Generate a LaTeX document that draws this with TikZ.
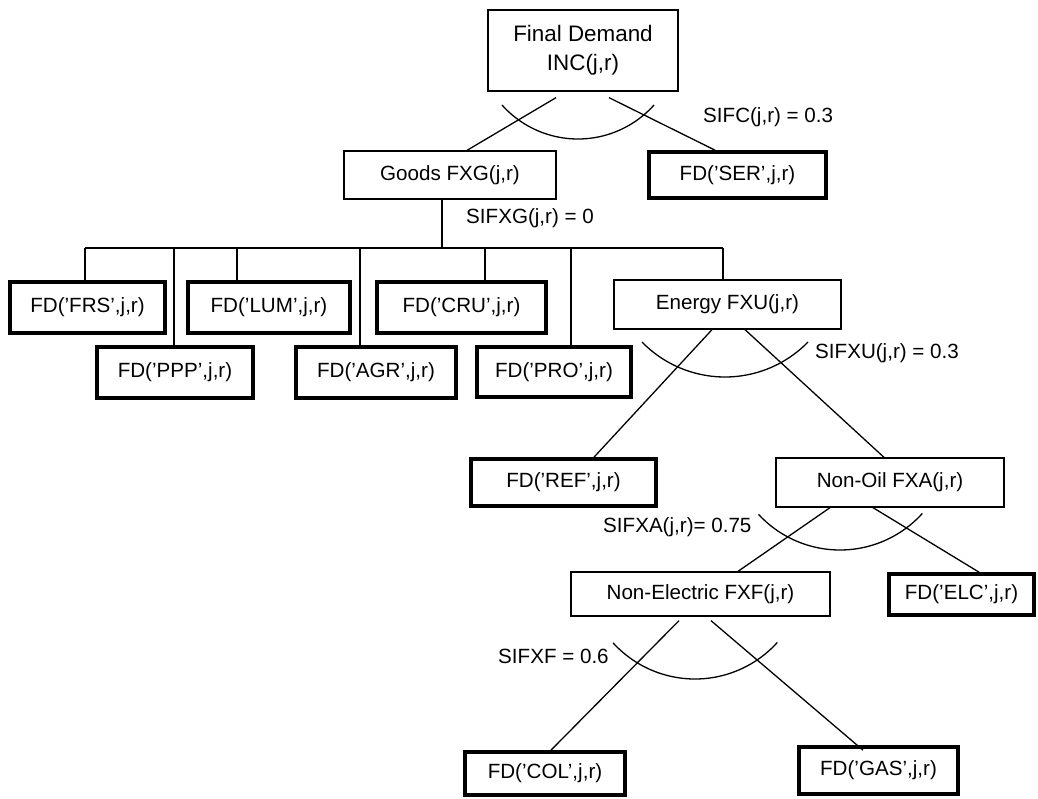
\documentclass[tikz,border=0pt]{standalone}
\usepackage{fontspec}
\setmainfont{Liberation Sans}
\usetikzlibrary{calc}
\begin{document}
\begin{tikzpicture}[x=1pt,y=-1pt,
  every node/.style={font=\fontsize{20.6}{28}\selectfont, inner sep=0pt},
  nest/.style={draw, line width=1.3pt, align=center},
  leaf/.style={draw, line width=3.7pt, align=center},
  link/.style={line width=1.3pt},
  elast/.style={line width=1.3pt},
  lbl/.style={anchor=west}]
\useasboundingbox (0,0) rectangle (1038,798);

% nesting nodes
\node[nest, minimum width=190pt, minimum height=81pt, font=\fontsize{22.4}{29}\selectfont] (fd) at (583,50.5) {Final Demand\\INC(j,r)};
\node[nest, minimum width=212pt, minimum height=48pt] (goods) at (450,175) {Goods FXG(j,r)};
\node[nest, minimum width=227pt, minimum height=49pt] (energy) at (727.5,304.5) {Energy FXU(j,r)};
\node[nest, minimum width=228pt, minimum height=49pt] (nonoil) at (890,482.5) {Non-Oil FXA(j,r)};
\node[nest, minimum width=259pt, minimum height=44pt] (nonel) at (700.5,594) {Non-Electric FXF(j,r)};

% final demand leaves
\node[leaf, minimum width=177pt, minimum height=46pt] (ser) at (737.5,175) {FD(’SER’,j,r)};
\node[leaf, minimum width=155pt, minimum height=51pt] (frs) at (87.5,307.5) {FD(’FRS’,j,r)};
\node[leaf, minimum width=162pt, minimum height=51pt] (lum) at (269,307.5) {FD(’LUM’,j,r)};
\node[leaf, minimum width=169pt, minimum height=51pt] (cru) at (461.5,307.5) {FD(’CRU’,j,r)};
\node[leaf, minimum width=156pt, minimum height=51pt] (ppp) at (175,372.5) {FD(’PPP’,j,r)};
\node[leaf, minimum width=160pt, minimum height=51pt] (agr) at (376,372.5) {FD(’AGR’,j,r)};
\node[leaf, minimum width=154pt, minimum height=50pt] (pro) at (554,372) {FD(’PRO’,j,r)};
\node[leaf, minimum width=185pt, minimum height=47pt] (ref) at (563.5,482.5) {FD(’REF’,j,r)};
\node[leaf, minimum width=145pt, minimum height=41pt] (elc) at (961.5,594.5) {FD(’ELC’,j,r)};
\node[leaf, minimum width=160pt, minimum height=43pt] (col) at (545,773.5) {FD(’COL’,j,r)};
\node[leaf, minimum width=159pt, minimum height=47pt] (gas) at (878.5,770.5) {FD(’GAS’,j,r)};

% top level split
\draw[link] ([xshift=-27pt,yshift=-6pt]fd.south) -- ([xshift=17pt]goods.north);
\draw[link] ([xshift=26pt,yshift=-6pt]fd.south) -- ([xshift=-22.5pt]ser.north);
\coordinate (fdc) at (578,37);
\draw[elast] ([shift={(221.8:102pt)}]fdc) arc[start angle=221.8, end angle=318.2, radius=102pt];
\node[lbl] (sifc) at (703,117) {SIFC(j,r) = 0.3};

% goods bus
\coordinate (busL) at (85,248);
\coordinate (busR) at (723,248);
\draw[link] ([xshift=-8pt]goods.south) -- ([xshift=-8pt]goods.south |- busL);
\draw[link] (busL) -- (busR);
\draw[link] ([xshift=-2.5pt]frs.north) -- ([xshift=-2.5pt]frs.north |- busL);
\draw[link] ([xshift=-32pt]lum.north) -- ([xshift=-32pt]lum.north |- busL);
\draw[link] ([xshift=23.5pt]cru.north) -- ([xshift=23.5pt]cru.north |- busL);
\draw[link] ([xshift=-1pt]ppp.north) -- ([xshift=-1pt]ppp.north |- busL);
\draw[link] ([xshift=-16pt]agr.north) -- ([xshift=-16pt]agr.north |- busL);
\draw[link] ([xshift=17pt]pro.north) -- ([xshift=17pt]pro.north |- busL);
\draw[link] ([xshift=-4.5pt]energy.north) -- ([xshift=-4.5pt]energy.north |- busL);
\node[lbl] (sifxg) at (466,218) {SIFXG(j,r) = 0};

% energy split
\draw[link] ([xshift=-15.5pt]energy.south) -- ([xshift=30.5pt]ref.north);
\draw[link] ([xshift=17.5pt]energy.south) -- ([xshift=-6pt]nonoil.north);
\coordinate (enc) at (725,261);
\draw[elast] ([shift={(224.3:116pt)}]enc) arc[start angle=224.3, end angle=315.7, radius=116pt];
\node[lbl] (sifxu) at (815,353) {SIFXU(j,r) = 0.3};

% non-oil split
\draw[link] ([xshift=-60pt]nonoil.south) -- ([xshift=37.5pt]nonel.north);
\draw[link] ([xshift=-17pt]nonoil.south) -- ([xshift=17.5pt]elc.north);
\coordinate (noc) at (840,439);
\draw[elast] ([shift={(222.8:111pt)}]noc) arc[start angle=222.8, end angle=317.9, radius=111pt];
\node[lbl] (sifxa) at (603,527) {SIFXA(j,r)= 0.75};

% non-electric split
\draw[link] ([xshift=-21.5pt,yshift=-4pt]nonel.south) -- ([xshift=6pt]col.north);
\draw[link] ([xshift=10.5pt,yshift=-4pt]nonel.south) -- ([xshift=-15.5pt,yshift=-5pt]gas.north);
\coordinate (nec) at (695,568);
\draw[elast] ([shift={(222.4:111pt)}]nec) arc[start angle=222.4, end angle=317.9, radius=111pt];
\node[lbl] (sifxf) at (498,656) {SIFXF = 0.6};
\end{tikzpicture}
\end{document}
